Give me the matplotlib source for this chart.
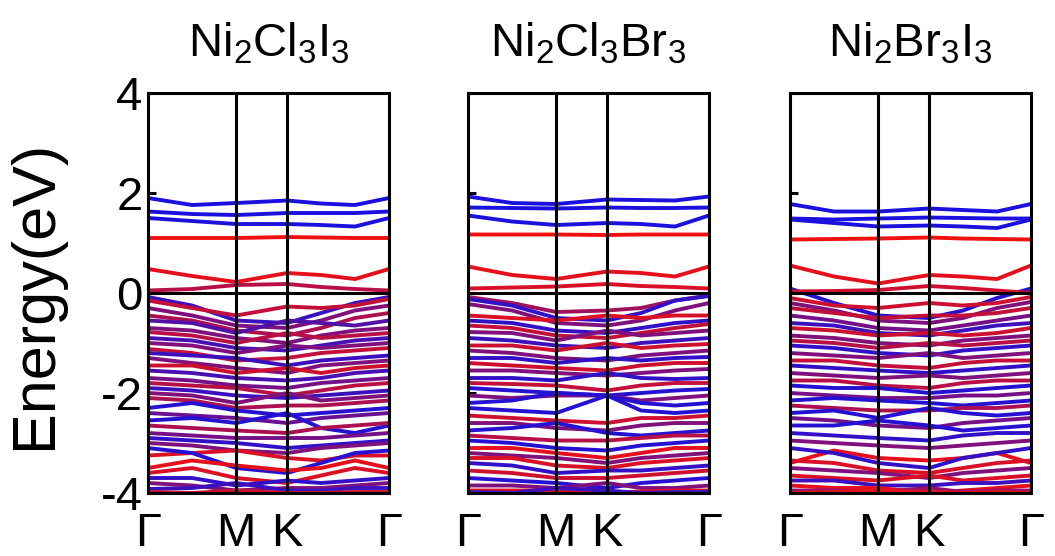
import numpy as np
import matplotlib
matplotlib.use('Agg')
import matplotlib.pyplot as plt
from matplotlib.colors import to_rgb

# ============ Parameters ===================

titles = ['Ni$_2$Cl$_3$I$_3$', 'Ni$_2$Cl$_3$Br$_3$', 'Ni$_2$Br$_3$I$_3$']
ylabel = 'Energy(eV)'
yticks = [-4, -2, 0, 2, 4]
ticklabels_k = ['\u0393', 'M', 'K', '\u0393']

# k-path coordinate of the sampled points: G, G-M/2, M, K, K-G/3, 2K-G/3, G
kpath = [0.0, 0.5, 1.0, 1.577, 1.962, 2.347, 2.732]
kmarks = [0.0, 1.0, 1.577, 2.732]

red = '#f01010'
blue = '#1010e8'

# ---- Ni2Cl3I3 ----
cond_p1 = [
    [1.90, 1.76, 1.80, 1.85, 1.79, 1.76, 1.90],
    [1.63, 1.58, 1.56, 1.60, 1.60, 1.60, 1.63],
    [1.50, 1.44, 1.38, 1.38, 1.36, 1.33, 1.50],
    [1.10, 1.10, 1.10, 1.12, 1.11, 1.10, 1.10],
    [0.48, 0.34, 0.22, 0.40, 0.36, 0.28, 0.48],
    [0.05, 0.08, 0.16, 0.18, 0.12, 0.08, 0.05],
]
cond_w_p1 = [0.95, 0.95, 0.95, 0.0, 0.05, 0.25]
val_p1 = [
    [-0.08, -0.25, -0.55, -0.60, -0.40, -0.20, -0.08],
    [-0.15, -0.30, -0.45, -0.27, -0.30, -0.25, -0.12],
    [-0.30, -0.45, -0.65, -0.70, -0.55, -0.35, -0.25],
    [-0.45, -0.55, -0.75, -0.85, -0.70, -0.50, -0.40],
    [-0.55, -0.60, -0.80, -0.55, -0.60, -0.65, -0.55],
    [-0.70, -0.75, -0.90, -1.00, -0.85, -0.75, -0.70],
    [-0.78, -0.85, -1.00, -0.80, -0.90, -0.85, -0.80],
    [-0.90, -0.95, -1.10, -1.15, -1.05, -0.95, -0.90],
    [-1.00, -1.05, -1.20, -1.05, -1.10, -1.05, -1.00],
    [-1.12, -1.20, -1.35, -1.30, -1.20, -1.15, -1.10],
    [-1.20, -1.25, -1.30, -1.45, -1.35, -1.30, -1.25],
    [-1.30, -1.40, -1.50, -1.60, -1.45, -1.40, -1.35],
    [-1.45, -1.45, -1.60, -1.50, -1.60, -1.50, -1.45],
    [-1.55, -1.60, -1.70, -1.75, -1.70, -1.60, -1.55],
    [-1.70, -1.75, -1.85, -1.90, -1.80, -1.75, -1.70],
    [-1.80, -1.85, -1.90, -2.05, -1.95, -1.85, -1.80],
    [-1.90, -1.95, -2.05, -2.10, -2.05, -2.00, -1.95],
    [-2.00, -2.05, -2.20, -2.00, -2.15, -2.10, -2.05],
    [-2.10, -2.15, -2.30, -2.25, -2.25, -2.20, -2.15],
    [-2.30, -2.20, -2.35, -2.45, -2.40, -2.35, -2.30],
    [-2.40, -2.45, -2.50, -2.60, -2.50, -2.45, -2.40],
    [-2.55, -2.50, -2.60, -2.40, -2.70, -2.80, -2.65],
    [-2.65, -2.70, -2.75, -2.80, -2.70, -2.65, -2.60],
    [-2.80, -2.85, -2.90, -2.90, -2.90, -2.85, -2.80],
    [-2.90, -2.95, -3.00, -3.10, -3.05, -3.00, -2.95],
    [-3.00, -3.05, -3.15, -3.20, -3.10, -3.05, -3.00],
    [-3.25, -3.20, -3.15, -3.30, -3.35, -3.25, -3.25],
    [-3.10, -3.20, -3.50, -3.60, -3.40, -3.20, -3.15],
    [-3.50, -3.35, -3.45, -3.55, -3.50, -3.35, -3.50],
    [-3.60, -3.50, -3.70, -3.80, -3.65, -3.50, -3.60],
    [-3.70, -3.70, -3.85, -3.75, -3.80, -3.75, -3.70],
    [-3.80, -3.85, -3.95, -3.90, -3.90, -3.85, -3.80],
    [-3.92, -3.90, -3.80, -3.95, -3.95, -3.90, -3.90],
    [-3.98, -4.00, -3.95, -4.00, -4.00, -3.98, -3.98],
]
val_w_p1 = [0.8, 0.2, 0.5, 0.3, 0.7, 0.5, 0.25, 0.75, 0.5, 0.2, 0.8, 0.5,
            0.15, 0.75, 0.55, 0.25, 0.8, 0.5, 0.3, 0.9, 0.6, 0.9, 0.3, 0.55,
            0.85, 0.5, 0.1, 0.9, 0.05, 0.1, 0.85, 0.5, 0.8, 0.15]

# ---- Ni2Cl3Br3 ----
cond_p2 = [
    [1.93, 1.80, 1.78, 1.87, 1.86, 1.85, 1.93],
    [1.71, 1.70, 1.69, 1.71, 1.70, 1.70, 1.71],
    [1.55, 1.43, 1.36, 1.40, 1.38, 1.33, 1.55],
    [1.17, 1.17, 1.17, 1.16, 1.17, 1.17, 1.17],
    [0.53, 0.36, 0.28, 0.43, 0.40, 0.33, 0.53],
    [0.09, 0.11, 0.13, 0.18, 0.14, 0.12, 0.09],
]
cond_w_p2 = [0.95, 0.95, 0.95, 0.0, 0.05, 0.1]
val_p2 = [
    [-0.08, -0.20, -0.38, -0.35, -0.30, -0.15, -0.05],
    [-0.12, -0.25, -0.50, -0.55, -0.40, -0.15, -0.06],
    [-0.22, -0.35, -0.60, -0.65, -0.55, -0.35, -0.20],
    [-0.45, -0.50, -0.55, -0.45, -0.50, -0.45, -0.45],
    [-0.55, -0.60, -0.75, -0.80, -0.70, -0.60, -0.55],
    [-0.65, -0.70, -0.85, -0.90, -0.80, -0.70, -0.62],
    [-0.78, -0.80, -0.95, -0.75, -0.85, -0.80, -0.75],
    [-0.90, -0.95, -1.05, -1.10, -1.00, -0.95, -0.90],
    [-1.05, -1.05, -1.15, -1.00, -1.10, -1.05, -1.02],
    [-1.15, -1.20, -1.30, -1.35, -1.25, -1.20, -1.15],
    [-1.30, -1.30, -1.40, -1.30, -1.35, -1.30, -1.28],
    [-1.40, -1.45, -1.50, -1.55, -1.45, -1.40, -1.40],
    [-1.55, -1.55, -1.60, -1.65, -1.60, -1.55, -1.52],
    [-1.70, -1.70, -1.75, -1.60, -1.70, -1.72, -1.70],
    [-1.80, -1.82, -1.85, -1.95, -1.85, -1.80, -1.80],
    [-1.90, -1.95, -2.00, -2.05, -2.00, -1.95, -1.92],
    [-2.05, -2.10, -2.05, -2.05, -2.15, -2.10, -2.05],
    [-2.20, -2.15, -2.00, -2.05, -2.20, -2.25, -2.20],
    [-2.30, -2.35, -2.40, -2.05, -2.35, -2.40, -2.35],
    [-2.45, -2.50, -2.55, -2.60, -2.50, -2.50, -2.45],
    [-2.60, -2.60, -2.70, -2.75, -2.65, -2.60, -2.60],
    [-2.75, -2.70, -2.60, -2.80, -2.85, -2.80, -2.75],
    [-2.85, -2.90, -2.95, -2.95, -2.90, -2.85, -2.85],
    [-2.95, -3.00, -3.10, -3.15, -3.05, -3.00, -2.95],
    [-3.10, -3.10, -3.20, -3.30, -3.20, -3.10, -3.10],
    [-3.20, -3.25, -3.30, -3.40, -3.30, -3.25, -3.20],
    [-3.30, -3.30, -3.45, -3.50, -3.40, -3.35, -3.30],
    [-3.40, -3.45, -3.60, -3.55, -3.55, -3.50, -3.45],
    [-3.55, -3.60, -3.70, -3.70, -3.65, -3.60, -3.55],
    [-3.70, -3.75, -3.80, -3.90, -3.80, -3.75, -3.70],
    [-3.85, -3.85, -3.90, -3.80, -3.90, -3.90, -3.85],
    [-3.95, -3.95, -3.95, -4.00, -3.97, -3.95, -3.95],
    [-3.98, -4.00, -3.90, -3.95, -4.00, -3.98, -3.98],
]
val_w_p2 = [0.35, 0.85, 0.5, 0.1, 0.85, 0.2, 0.5, 0.8, 0.15, 0.5, 0.85, 0.15,
            0.5, 0.85, 0.2, 0.9, 0.5, 0.9, 0.9, 0.15, 0.5, 0.9, 0.25, 0.9,
            0.05, 0.5, 0.1, 0.85, 0.15, 0.9, 0.5, 0.1, 0.8]

# ---- Ni2Br3I3 ----
cond_p3 = [
    [1.78, 1.63, 1.63, 1.69, 1.66, 1.63, 1.78],
    [1.49, 1.47, 1.49, 1.51, 1.50, 1.49, 1.49],
    [1.47, 1.40, 1.33, 1.35, 1.33, 1.30, 1.47],
    [1.07, 1.08, 1.09, 1.11, 1.09, 1.08, 1.07],
    [0.55, 0.33, 0.19, 0.36, 0.33, 0.28, 0.55],
    [0.03, 0.04, 0.06, 0.14, 0.10, 0.05, 0.00],
]
cond_w_p3 = [0.95, 0.95, 0.95, 0.0, 0.05, 0.15]
val_p3 = [
    [0.09, -0.20, -0.45, -0.50, -0.35, -0.10, 0.09],
    [-0.10, -0.25, -0.30, -0.20, -0.25, -0.20, -0.08],
    [-0.20, -0.35, -0.55, -0.60, -0.50, -0.30, -0.18],
    [-0.30, -0.40, -0.50, -0.45, -0.45, -0.40, -0.30],
    [-0.45, -0.55, -0.70, -0.75, -0.65, -0.55, -0.45],
    [-0.60, -0.65, -0.80, -0.85, -0.75, -0.65, -0.60],
    [-0.70, -0.75, -0.85, -0.80, -0.85, -0.80, -0.70],
    [-0.85, -0.90, -1.00, -1.05, -0.95, -0.90, -0.85],
    [-0.95, -1.00, -1.10, -1.00, -1.05, -1.00, -0.95],
    [-1.05, -1.10, -1.20, -1.25, -1.15, -1.10, -1.05],
    [-1.20, -1.25, -1.30, -1.20, -1.30, -1.25, -1.20],
    [-1.35, -1.35, -1.45, -1.50, -1.40, -1.35, -1.35],
    [-1.45, -1.50, -1.55, -1.60, -1.55, -1.50, -1.45],
    [-1.60, -1.65, -1.70, -1.65, -1.70, -1.65, -1.60],
    [-1.75, -1.75, -1.85, -1.90, -1.80, -1.75, -1.75],
    [-1.85, -1.90, -1.90, -2.00, -1.95, -1.90, -1.85],
    [-2.00, -2.05, -2.10, -2.10, -2.05, -2.05, -2.00],
    [-2.15, -2.10, -2.15, -2.20, -2.25, -2.20, -2.15],
    [-2.25, -2.30, -2.35, -2.35, -2.30, -2.30, -2.25],
    [-2.40, -2.35, -2.50, -2.30, -2.40, -2.45, -2.40],
    [-2.50, -2.55, -2.65, -2.70, -2.60, -2.55, -2.50],
    [-2.65, -2.65, -2.55, -2.65, -2.75, -2.70, -2.65],
    [-2.80, -2.85, -2.90, -2.95, -2.85, -2.80, -2.80],
    [-2.95, -3.00, -3.05, -3.10, -3.05, -3.00, -2.95],
    [-3.40, -3.15, -3.30, -3.35, -3.30, -3.20, -3.40],
    [-3.35, -3.40, -3.55, -3.60, -3.50, -3.40, -3.35],
    [-3.10, -3.20, -3.40, -3.50, -3.30, -3.20, -3.10],
    [-3.50, -3.55, -3.60, -3.70, -3.60, -3.55, -3.50],
    [-3.65, -3.70, -3.75, -3.65, -3.75, -3.70, -3.65],
    [-3.75, -3.75, -3.85, -3.85, -3.80, -3.80, -3.75],
    [-3.85, -3.90, -3.90, -4.00, -3.95, -3.90, -3.85],
    [-3.95, -3.95, -3.98, -3.90, -3.98, -3.95, -3.95],
    [-4.00, -3.98, -3.95, -3.98, -4.00, -3.98, -4.00],
]
val_w_p3 = [0.9, 0.15, 0.5, 0.2, 0.55, 0.8, 0.15, 0.5, 0.25, 0.85, 0.5, 0.2,
            0.85, 0.5, 0.25, 0.9, 0.55, 0.9, 0.3, 0.9, 0.55, 0.9, 0.85, 0.5,
            0.05, 0.1, 0.85, 0.5, 0.1, 0.8, 0.05, 0.4, 0.05]

panels = [(cond_p1, cond_w_p1, val_p1, val_w_p1),
          (cond_p2, cond_w_p2, val_p2, val_w_p2),
          (cond_p3, cond_w_p3, val_p3, val_w_p3)]

# ===========================================

plt.rcParams['font.family'] = ['Liberation Sans', 'DejaVu Sans']
plt.rcParams['mathtext.default'] = 'regular'
plt.rcParams['axes.unicode_minus'] = False

r_rgb = np.array(to_rgb(red))
b_rgb = np.array(to_rgb(blue))

def mix(w):
    return tuple((1 - w) * r_rgb + w * b_rgb)

fig = plt.figure(figsize=(10.55, 5.56), dpi=100)
lefts = [0.1403, 0.4436, 0.7488]

for i, (cb, cw, vb, vw) in enumerate(panels):
    ax = fig.add_axes([lefts[i], 0.1133, 0.2284, 0.7194])
    for band, w in zip(vb + cb, vw + cw):
        ax.plot(kpath, band, color=mix(w), lw=2.8, solid_joinstyle='round',
                solid_capstyle='round')
    for km in kmarks[1:-1]:
        ax.axvline(km, color='black', lw=2.2, zorder=5)
    ax.axhline(0, color='black', lw=2.2, zorder=5)

    ax.set_xlim(kpath[0], kpath[-1])
    ax.set_ylim(-4, 4)
    ax.set_yticks(yticks)
    ax.set_xticks(kmarks)
    ax.set_xticklabels(ticklabels_k, fontsize=34)
    ax.tick_params(axis='x', length=0, pad=14)
    ax.tick_params(axis='y', direction='in', length=6, width=2.2,
                   labelsize=34, pad=4)
    if i > 0:
        ax.set_yticklabels([])
    for sp in ax.spines.values():
        sp.set_linewidth(2.2)
        sp.set_zorder(6)
    ax.set_title(titles[i], fontsize=34, pad=26)

fig.text(0.034, 0.47, ylabel, rotation=90, ha='center', va='center',
         fontsize=44)

plt.savefig('out.png', dpi=100)
